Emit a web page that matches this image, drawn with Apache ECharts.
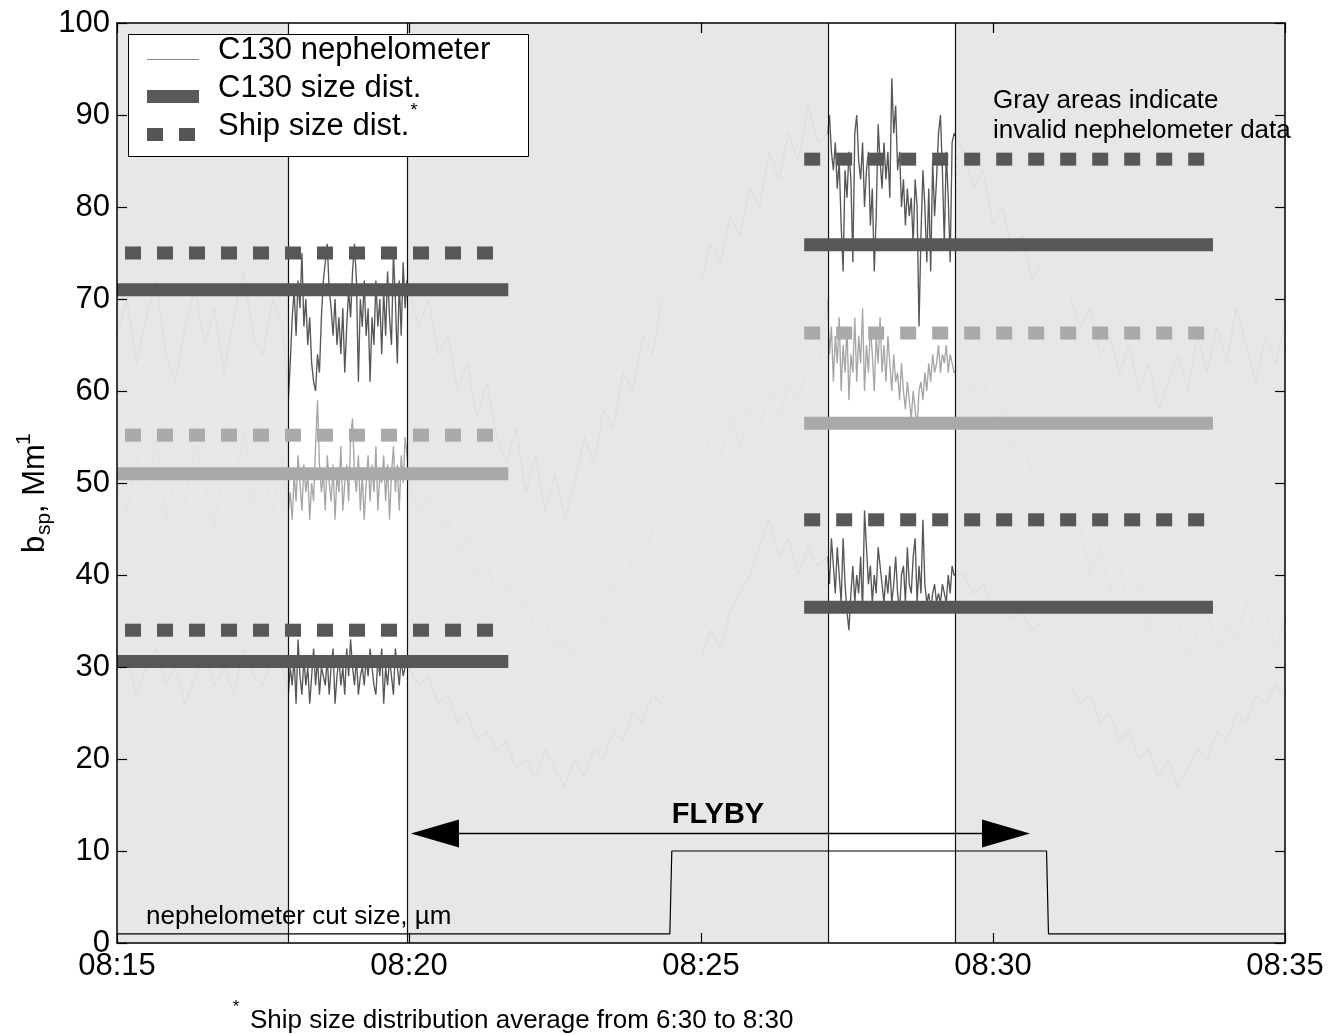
<!DOCTYPE html>
<html>
<head>
<meta charset="utf-8">
<script src="https://cdn.jsdelivr.net/npm/echarts@6/dist/echarts.min.js"></script>
<style>html,body{margin:0;padding:0;background:#fff}#c{width:1328px;height:1034px}</style>
</head>
<body>
<div id="c"></div>
<script>
// ---------- DATA ----------
// x is seconds after 08:15:00
const xTickLabels = ['08:15', '08:20', '08:25', '08:30', '08:35'];

// sampling segments of the nephelometer record (start second, step seconds, break line after)
const segStart = [0, 176, 300, 600, 730, 870, 980];
const segStep  = [10, 2, 10, 10, 2, 10, 10];
const segBreak = [0, 0, 1, 0, 0, 1, 0];

// C130 nephelometer, top channel (dark)
const nephTop = [
  [66,70,63,68,72,64,61,67,71,65,69,62,68,73,66,64,70,67],
  [59,63,68,71,66,72,69,75,67,70,65,68,63,61,60,64,62,68,72,74,76,71,69,66,70,65,68,64,69,62,67,71,68,73,76,72,61,70,67,72,66,69,61,68,65,72,67,70,64,71,66,73,68,65,75,70,63,72,66,74,69,72],
  [72,67,70,64,66,60,63,57,61,55,52,56,49,53,47,51,46,50,55,52,58,56,62,60,66,64,70],
  [72,76,74,79,77,82,80,86,83,88,85,91,87],
  [88,90,86,84,87,82,85,78,73,84,81,86,83,74,88,90,85,83,87,80,84,86,78,82,73,79,89,85,82,87,83,86,81,94,88,91,84,86,80,83,78,82,79,81,76,83,80,67,77,84,80,74,82,73,85,79,83,88,90,84,76,86,81,74,87,88],
  [86,82,84,78,80,75,77,72,74],
  [70,67,69,64,66,62,65,60,63,58,61,64,60,66,62,67,63,69,65,61,66,63,67]
];
// C130 nephelometer, middle channel (light)
const nephMid = [
  [50,47,53,49,55,46,51,48,54,50,45,52,49,56,48,51,47,53],
  [47,49,46,51,48,53,50,47,52,49,51,46,50,48,54,59,52,49,51,47,53,50,48,52,46,51,49,54,47,50,52,48,55,57,51,49,53,47,51,46,50,53,48,52,49,54,47,51,50,53,48,52,46,51,54,49,52,47,53,50,55,53],
  [50,47,49,45,46,42,44,40,41,38,39,36,37,34,35,32,33,31,34,36,35,39,38,42,41,45,47],
  [52,55,53,57,54,58,56,60,57,61,59,63,62],
  [70,64,67,61,66,63,68,60,65,62,67,59,64,62,68,61,66,63,69,60,65,62,67,64,60,66,63,68,62,65,61,66,63,60,64,61,62,59,63,60,58,61,59,57,60,58,56,60,61,59,62,60,63,61,64,62,63,65,62,64,63,65,62,64,63,62],
  [63,60,61,57,58,54,55,51,52],
  [42,45,40,43,38,41,36,39,34,37,33,35,31,34,36,32,35,33,37,34,36,32,35]
];
// C130 nephelometer, bottom channel (dark)
const nephBot = [
  [29,31,27,30,32,28,30,26,29,31,28,30,27,32,29,28,31,30],
  [27,30,28,31,26,33,29,27,31,28,30,26,29,32,28,31,27,30,29,28,31,27,30,32,26,29,31,28,30,27,32,29,33,30,28,31,27,29,30,28,31,29,32,30,28,27,31,29,32,26,30,28,31,29,27,32,30,28,31,29,30,31],
  [30,28,29,26,27,24,25,22,23,21,22,19,20,18,21,19,17,20,18,21,20,23,22,25,24,27,26],
  [31,34,32,36,38,40,43,46,42,44,40,43,41],
  [42,39,44,41,38,43,40,37,44,39,36,34,38,41,37,40,38,42,36,47,43,39,41,37,40,38,43,41,39,37,40,38,41,37,39,42,38,36,40,41,37,43,39,38,42,44,37,41,38,46,39,37,38,36,38,39,37,38,37,39,38,37,40,38,41,40],
  [40,38,39,36,37,35,36,34,35],
  [28,26,27,24,25,22,23,20,21,18,20,17,19,21,20,23,22,25,24,27,26,28,27]
];

// size distribution levels (top, middle, bottom channel)
const c130SizeLeft  = [71, 51, 30.6];
const shipSizeLeft  = [75, 55.2, 34];
const c130SizeRight = [75.9, 56.5, 36.5];
const shipSizeRight = [85.2, 66.3, 46];
const sizeLeftSpan  = [0, 402];
const sizeRightSpan = [706, 1126];

// valid nephelometer windows (white) ; the rest is invalid (gray)
const validWindows = [[176, 298], [730, 861]];

// nephelometer cut size, um
const cutTimes = [0, 568, 570, 955, 957, 1200];
const cutSize  = [1, 1, 10, 10, 1, 1];

// flyby span
const flybySpan = [302, 938];
const flybyLevel = 11.9;

// ---------- BUILD ----------
function buildTrace(segs) {
  const out = [];
  segs.forEach((vals, k) => {
    vals.forEach((v, i) => out.push([segStart[k] + i * segStep[k], v]));
    if (segBreak[k]) out.push([segStart[k] + vals.length * segStep[k], null]);
  });
  return out;
}
const invalid = [];
{
  let prev = 0;
  validWindows.forEach(w => { invalid.push([prev, w[0]]); prev = w[1]; });
  invalid.push([prev, 1200]);
}
const FONT = 'Liberation Sans, Arial, Helvetica, sans-serif';
const DARK = '#575757', LIGHT = '#a6a6a6';
const chColors = [DARK, '#a9a9a9', DARK];

const series = [];
[[nephTop, DARK], [nephMid, LIGHT], [nephBot, DARK]].forEach(([d, c]) => {
  series.push({
    type: 'line', data: buildTrace(d), showSymbol: false, symbol: 'none',
    connectNulls: false, lineStyle: { color: c, width: 1.35 }, z: 2, silent: true
  });
});
// gray overlay for invalid data
series.push({
  type: 'custom', z: 3, silent: true, data: invalid,
  renderItem: (p, api) => {
    const a = api.coord([api.value(0), 100]);
    const b = api.coord([api.value(1), 0]);
    return { type: 'rect', shape: { x: a[0], y: a[1], width: b[0] - a[0], height: b[1] - a[1] },
             style: { fill: 'rgba(230,230,230,0.95)' } };
  }
});
// window boundary lines
series.push({
  type: 'custom', z: 4, silent: true,
  data: validWindows.flat().map(t => [t, 0]),
  renderItem: (p, api) => {
    const a = api.coord([api.value(0), 0]);
    const b = api.coord([api.value(0), 100]);
    return { type: 'line', shape: { x1: Math.round(a[0]) + 0.5, y1: a[1], x2: Math.round(a[0]) + 0.5, y2: b[1] },
             style: { stroke: '#111', lineWidth: 1.2 } };
  }
});
// size distribution lines
function sizeLine(span, val, color, dashed, offset) {
  return {
    type: 'line', data: [[span[0], val], [span[1], val]], symbol: 'none', z: 5, silent: true,
    lineStyle: { color: color, width: 13, cap: 'butt', type: dashed ? [16, 16] : 'solid', dashOffset: offset || 0 }
  };
}
c130SizeLeft.forEach((v, i) => series.push(sizeLine(sizeLeftSpan, v, chColors[i], false)));
shipSizeLeft.forEach((v, i) => series.push(sizeLine(sizeLeftSpan, v, chColors[i], true, 24)));
c130SizeRight.forEach((v, i) => series.push(sizeLine(sizeRightSpan, v, chColors[i], false)));
shipSizeRight.forEach((v, i) => series.push(sizeLine(sizeRightSpan, v, chColors[i], true, 0)));
// cut size line
series.push({
  type: 'line', data: cutTimes.map((t, i) => [t, cutSize[i]]), symbol: 'none', z: 5, silent: true,
  lineStyle: { color: '#000', width: 1.2 }
});
// flyby arrow
series.push({
  type: 'custom', z: 6, silent: true, data: [[flybySpan[0], flybyLevel, flybySpan[1]]],
  renderItem: (p, api) => {
    const a = api.coord([api.value(0), api.value(1)]);
    const b = api.coord([api.value(2), api.value(1)]);
    const L = 48, H = 14;
    return { type: 'group', children: [
      { type: 'line', shape: { x1: a[0] + 10, y1: a[1], x2: b[0] - 10, y2: b[1] }, style: { stroke: '#000', lineWidth: 1.6 } },
      { type: 'polygon', shape: { points: [[a[0], a[1]], [a[0] + L, a[1] - H], [a[0] + L, a[1] + H]] }, style: { fill: '#000' } },
      { type: 'polygon', shape: { points: [[b[0], b[1]], [b[0] - L, b[1] - H], [b[0] - L, b[1] + H]] }, style: { fill: '#000' } }
    ] };
  }
});

function axisCommon() {
  return {
    z: 20,
    axisLine: { show: true, onZero: false, lineStyle: { color: '#000', width: 1.5 } },
    axisTick: { show: true, inside: true, length: 10, lineStyle: { color: '#000', width: 1.2 } },
    splitLine: { show: false }
  };
}

const option = {
  animation: false,
  backgroundColor: '#fff',
  grid: { left: 117, right: 43, top: 23, bottom: 91, containLabel: false },
  xAxis: [
    Object.assign(axisCommon(), { type: 'value', min: 0, max: 1200, interval: 300, position: 'bottom',
      axisLabel: { formatter: v => xTickLabels[Math.round(v / 300)], fontSize: 31, color: '#000', fontFamily: FONT, margin: 8 } }),
    Object.assign(axisCommon(), { type: 'value', min: 0, max: 1200, interval: 300, position: 'top', axisLabel: { show: false } })
  ],
  yAxis: [
    Object.assign(axisCommon(), { type: 'value', min: 0, max: 100, interval: 10, position: 'left',
      axisLabel: { fontSize: 31, color: '#000', fontFamily: FONT, margin: 7 } }),
    Object.assign(axisCommon(), { type: 'value', min: 0, max: 100, interval: 10, position: 'right', axisLabel: { show: false } })
  ],
  series: series,
  graphic: [
    // legend
    { type: 'rect', z: 100, shape: { x: 128.5, y: 34.5, width: 400, height: 122 }, style: { fill: '#fff', stroke: '#000', lineWidth: 1 } },
    { type: 'line', z: 101, shape: { x1: 147, y1: 59.5, x2: 199, y2: 59.5 }, style: { stroke: '#888', lineWidth: 1 } },
    { type: 'rect', z: 101, shape: { x: 147, y: 90, width: 52, height: 13 }, style: { fill: '#5a5a5a' } },
    { type: 'rect', z: 101, shape: { x: 147, y: 128, width: 16, height: 13 }, style: { fill: '#555' } },
    { type: 'rect', z: 101, shape: { x: 179, y: 128, width: 16, height: 13 }, style: { fill: '#555' } },
    { type: 'text', z: 101, x: 218, y: 50, style: { text: 'C130 nephelometer', font: '31px ' + FONT, fill: '#000', verticalAlign: 'middle' } },
    { type: 'text', z: 101, x: 218, y: 88, style: { text: 'C130 size dist.', font: '31px ' + FONT, fill: '#000', verticalAlign: 'middle' } },
    { type: 'text', z: 101, x: 218, y: 126, style: { text: 'Ship size dist.', font: '31px ' + FONT, fill: '#000', verticalAlign: 'middle' } },
    { type: 'text', z: 101, x: 414, y: 111, style: { text: '*', font: '18px ' + FONT, fill: '#000', align: 'center', verticalAlign: 'middle' } },
    // annotations
    { type: 'text', z: 101, x: 993, y: 101, style: { text: 'Gray areas indicate', font: '26px ' + FONT, fill: '#000', verticalAlign: 'middle' } },
    { type: 'text', z: 101, x: 993, y: 131, style: { text: 'invalid nephelometer data', font: '26px ' + FONT, fill: '#000', verticalAlign: 'middle' } },
    { type: 'text', z: 101, x: 146, y: 917, style: { text: 'nephelometer cut size, \u00b5m', font: '26px ' + FONT, fill: '#000', verticalAlign: 'middle' } },
    { type: 'text', z: 101, x: 718, y: 815, style: { text: 'FLYBY', font: 'bold 29px ' + FONT, fill: '#000', align: 'center', verticalAlign: 'middle' } },
    // footnote
    { type: 'text', z: 101, x: 236, y: 1007, style: { text: '*', font: '17px ' + FONT, fill: '#000', align: 'center', verticalAlign: 'middle' } },
    { type: 'text', z: 101, x: 250, y: 1021, style: { text: 'Ship size distribution average from 6:30 to 8:30', font: '26px ' + FONT, fill: '#000', verticalAlign: 'middle' } },
    // y axis title
    { type: 'group', z: 101, x: 45, y: 553, rotation: Math.PI / 2, children: [
      { type: 'text', x: 0, y: -10, style: { text: 'b', font: '31px ' + FONT, fill: '#000', verticalAlign: 'middle' } },
      { type: 'text', x: 18, y: -1, style: { text: 'sp', font: '21px ' + FONT, fill: '#000', verticalAlign: 'middle' } },
      { type: 'text', x: 40, y: -10, style: { text: ', Mm', font: '31px ' + FONT, fill: '#000', verticalAlign: 'middle' } },
      { type: 'text', x: 108, y: -21, style: { text: '1', font: '21px ' + FONT, fill: '#000', verticalAlign: 'middle' } }
    ] }
  ]
};

const chart = echarts.init(document.getElementById('c'), null, { renderer: 'canvas' });
chart.setOption(option);
</script>
</body>
</html>
